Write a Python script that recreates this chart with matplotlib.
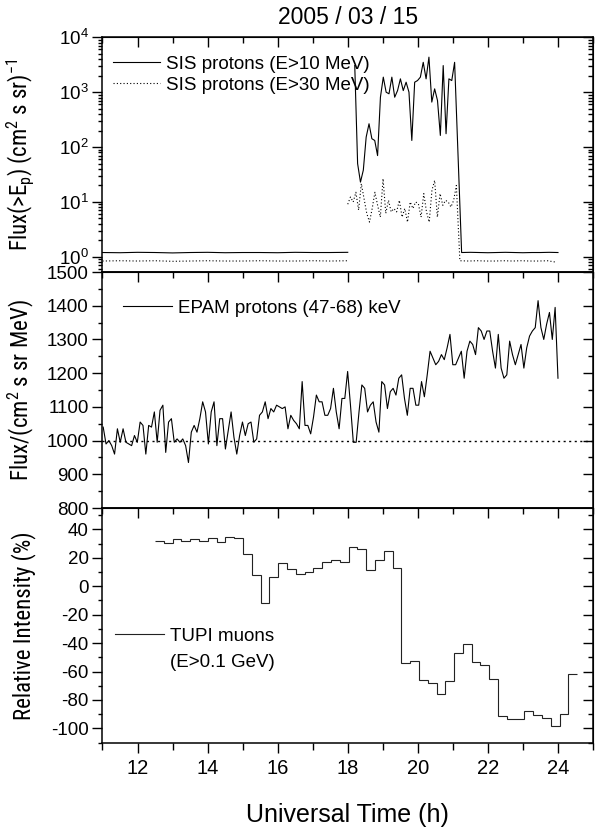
import numpy as np
import matplotlib
matplotlib.use('Agg')
import matplotlib.pyplot as plt
from matplotlib import font_manager
from matplotlib.ticker import MultipleLocator, LogLocator, NullFormatter

plt.rcParams['font.family'] = ['Liberation Sans', 'DejaVu Sans']
plt.rcParams['mathtext.fontset'] = 'custom'
plt.rcParams['mathtext.rm'] = 'Liberation Sans'
plt.rcParams['mathtext.it'] = 'Liberation Sans:italic'
plt.rcParams['axes.unicode_minus'] = False
plt.rcParams['xtick.labelsize'] = 14.5
plt.rcParams['ytick.labelsize'] = 13.5

# --- SIS integral proton flux (GOES), cm^-2 s^-1 sr^-1 ---
sis_pre_t = [11.0, 11.5, 12.0, 12.5, 13.0, 13.5, 14.0, 14.5, 15.0, 15.5, 16.0, 16.5, 17.0, 17.5, 18.0]
sis10_pre = [1.20, 1.19, 1.21, 1.20, 1.18, 1.20, 1.21, 1.19, 1.20, 1.20, 1.19, 1.21, 1.20, 1.20, 1.21]
sis30_pre = [0.84, 0.85, 0.84, 0.85, 0.83, 0.84, 0.85, 0.84, 0.84, 0.85, 0.84, 0.84, 0.85, 0.84, 0.85]

sis10_event = [3055, 50, 23, 38, 152, 266, 142, 132, 70, 810, 1880, 1000,
               935, 1880, 810, 1070, 1750, 1070, 1520, 1000, 132, 1520, 1630, 1880,
               3500, 1750, 4350, 660, 1150, 705, 163, 3055, 175, 1750, 1630, 3500]
sis30_event = [9.1, 12.3, 10.0, 15.0, 7.1, 21.6, 11.5, 6.2, 4.3, 7.6, 15.0, 8.7,
               5.3, 26.6, 6.2, 10.7, 6.6, 7.6, 6.6, 10.7, 5.3, 7.6, 4.3, 10.0,
               7.6, 10.0, 9.3, 5.3, 14.2, 6.6, 4.3, 16.3, 24.7, 5.3, 14.2, 8.7,
               10.7, 10.0, 8.1, 10.7, 20.0]

sis_post_t = [21.25, 21.5, 21.75, 22.0, 22.25, 22.5, 22.75, 23.0, 23.25, 23.5, 23.75, 24.0]
sis10_post = [1.20, 1.21, 1.20, 1.19, 1.20, 1.21, 1.20, 1.19, 1.20, 1.20, 1.21, 1.20]
sis30_post = [0.85, 0.84, 0.85, 0.84, 0.84, 0.85, 0.84, 0.85, 0.84, 0.84, 0.85, 0.80]

# --- ACE/EPAM 47-68 keV differential proton flux ---
epam_flux = [1040, 990, 1000, 985, 960, 1035, 995, 1035, 995, 990, 985, 1015,
             995, 1055, 1045, 960, 1045, 1040, 1085, 995, 1090, 1105, 965, 1055,
             1065, 995, 1005, 995, 1005, 985, 935, 1025, 1045, 1025, 1065, 1115,
             1085, 990, 1085, 1115, 985, 1065, 1065, 975, 1030, 1085, 1010, 960,
             1015, 1055, 1015, 1050, 1055, 995, 1005, 1075, 1085, 1115, 1065, 1095,
             1085, 1105, 1100, 1095, 1100, 1035, 1075, 1060, 1050, 1035, 1175, 1045,
             1045, 1020, 1070, 1135, 1115, 1115, 1075, 1075, 1095, 1155, 1085, 1035,
             1125, 1125, 1205, 1105, 995, 995, 1085, 1165, 1155, 1085, 1105, 1115,
             1055, 1025, 1175, 1165, 1095, 1145, 1155, 1135, 1185, 1195, 1125, 1075,
             1155, 1155, 1105, 1105, 1175, 1130, 1195, 1265, 1245, 1225, 1235, 1255,
             1240, 1275, 1315, 1225, 1225, 1245, 1265, 1185, 1265, 1295, 1285, 1255,
             1335, 1325, 1300, 1325, 1325, 1265, 1215, 1315, 1215, 1185, 1195, 1295,
             1255, 1225, 1255, 1285, 1215, 1275, 1310, 1325, 1335, 1415, 1335, 1300,
             1345, 1380, 1300, 1395, 1185]
epam_base = 1000

# --- TUPI muon relative intensity, 15-min bins ---
tupi_rel = [31.8, 30.2, 33.4, 31.6, 33.0, 32.0, 34.2, 31.3, 34.6, 33.9, 22.5, 8.2,
            -11.5, 6.3, 16.1, 12.4, 8.4, 10.1, 13.1, 17.3, 18.5, 17.1, 27.8, 26.4,
            11.5, 18.5, 24.8, 12.6, -54.3, -52.4, -65.7, -68.1, -75.8, -66.7, -47.3, -40.9,
            -53.6, -55.2, -65.3, -91.5, -93.3, -93.3, -87.7, -90.5, -92.6, -98.0, -89.8, -61.8]


def pick_narrow():
    fonts = font_manager.fontManager.ttflist
    names = {f.name for f in fonts}
    for n in ['Liberation Sans Narrow', 'Arial Narrow', 'Roboto Condensed', 'Open Sans Condensed']:
        if n in names:
            return dict(family=n, fontsize=16.5)
    for f in fonts:
        if f.name in ('Liberation Sans', 'DejaVu Sans', 'Noto Sans', 'Roboto', 'Open Sans') and 'condensed' in str(f.stretch):
            return dict(family=f.name, fontstretch='condensed', fontsize=16)
    return dict(family='Liberation Sans', fontsize=14)


ylab_font = pick_narrow()

fig = plt.figure(figsize=(5.99, 8.27), dpi=100)
left, width = 0.1711, 0.8189
ax1 = fig.add_axes([left, 0.6711, width, 0.9549 - 0.6711])
ax2 = fig.add_axes([left, 0.3857, width, 0.6711 - 0.3857], sharex=ax1)
ax3 = fig.add_axes([left, 0.1012, width, 0.3857 - 0.1012], sharex=ax1)

lw = 0.8
dots = (0, (1, 2))

# top panel: SIS protons
t_event10 = np.linspace(18.2, 21.05, len(sis10_event))
t_event30 = np.linspace(18.0, 21.1, len(sis30_event))
ax1.plot(sis_pre_t, sis10_pre, color='k', lw=lw)
ax1.plot(np.concatenate([t_event10, sis_post_t]), sis10_event + sis10_post,
         color='k', lw=lw, label='SIS protons (E>10 MeV)')
ax1.plot(sis_pre_t, sis30_pre, color='k', lw=lw, ls=dots)
ax1.plot(np.concatenate([t_event30, np.array(sis_post_t) - 0.05]), sis30_event + sis30_post,
         color='k', lw=lw, ls=dots, label='SIS protons (E>30 MeV)')
ax1.set_yscale('log')
ax1.set_ylim(0.53, 1e4)
ax1.yaxis.set_major_locator(LogLocator(base=10, numticks=10))
ax1.yaxis.set_minor_locator(LogLocator(base=10, subs=np.arange(2, 10), numticks=50))
ax1.yaxis.set_minor_formatter(NullFormatter())
ax1.legend(loc='upper left', bbox_to_anchor=(0.0214, 0.922), frameon=False, fontsize=13.5,
           handlelength=2.5, handletextpad=0.35, labelspacing=0.2, borderpad=0, borderaxespad=0)
ax1.set_ylabel('Flux(>E$_\\mathregular{p}$) (cm$^\\mathregular{2}$ s sr)$^\\mathregular{-1}$', **ylab_font)

# middle panel: EPAM protons
t_epam = np.linspace(11.02, 24.0, len(epam_flux))
ax2.plot(t_epam, epam_flux, color='k', lw=lw, label='EPAM protons (47-68) keV')
ax2.axhline(epam_base, color='k', lw=1.0, ls=(0, (1.5, 2.5)))
ax2.set_ylim(800, 1500)
ax2.yaxis.set_major_locator(MultipleLocator(100))
ax2.yaxis.set_minor_locator(MultipleLocator(50))
ax2.legend(loc='upper left', bbox_to_anchor=(0.042, 0.883), frameon=False, fontsize=13.5,
           handlelength=2.6, handletextpad=0.35, borderpad=0, borderaxespad=0)
ax2.set_ylabel('Flux/(cm$^\\mathregular{2}$ s sr MeV)', **ylab_font)

# bottom panel: TUPI muons
edges = np.linspace(12.5, 24.55, len(tupi_rel) + 1)
ax3.stairs(tupi_rel, edges, color='#222222', lw=lw, baseline=None, label='TUPI muons')
ax3.set_ylim(-110.5, 55)
ax3.yaxis.set_major_locator(MultipleLocator(20))
ax3.yaxis.set_minor_locator(MultipleLocator(10))
ax3.legend(loc='upper left', bbox_to_anchor=(0.0255, 0.492), frameon=False, fontsize=13.5,
           handlelength=2.6, handletextpad=0.35, borderpad=0, borderaxespad=0)
ax3.text(0.1376, 0.3455, '(E>0.1 GeV)', transform=ax3.transAxes, fontsize=13.5,
         ha='left', va='center')
ax3.set_ylabel('Relative Intensity (%)', **ylab_font)
ax3.set_xlabel('Universal Time (h)', fontsize=18)
ax3.xaxis.set_label_coords(0.5, -0.255)

ax1.set_xlim(11, 25)
for ax in (ax1, ax2, ax3):
    for sp in ax.spines.values():
        sp.set_linewidth(1.1)
    ax.xaxis.set_major_locator(MultipleLocator(2))
    ax.xaxis.set_minor_locator(MultipleLocator(1))
    ax.tick_params(axis='y', which='both', left=True, right=False, direction='out', width=1.0, pad=3)
    ax.tick_params(axis='y', which='major', length=7)
    ax.tick_params(axis='y', which='minor', length=3)
    ax.yaxis.set_label_coords(-0.135, 0.5)

    # inward ticks on the right and top edges
    sy = ax.secondary_yaxis('right')
    sy.tick_params(axis='y', which='both', direction='in', labelright=False, width=1.0)
    sy.tick_params(axis='y', which='major', length=7)
    sy.tick_params(axis='y', which='minor', length=3.5)
    if ax is not ax1:
        sy.yaxis.set_major_locator(ax.yaxis.get_major_locator())
        sy.yaxis.set_minor_locator(ax.yaxis.get_minor_locator())
    sx = ax.secondary_xaxis('top')
    sx.xaxis.set_major_locator(MultipleLocator(2))
    sx.xaxis.set_minor_locator(MultipleLocator(1))
    sx.tick_params(axis='x', which='both', direction='in', labeltop=False, width=1.0)
    sx.tick_params(axis='x', which='major', length=7)
    sx.tick_params(axis='x', which='minor', length=4)

for ax in (ax1, ax2):
    ax.tick_params(axis='x', which='both', bottom=False, labelbottom=False)
ax3.tick_params(axis='x', which='both', direction='out', width=1.0, pad=4)
ax3.tick_params(axis='x', which='major', length=7)
ax3.tick_params(axis='x', which='minor', length=5)

fig.text(0.5806, 0.979, '2005 / 03 / 15', ha='center', va='center', fontsize=16.5)

fig.savefig('out.png', dpi=100)
